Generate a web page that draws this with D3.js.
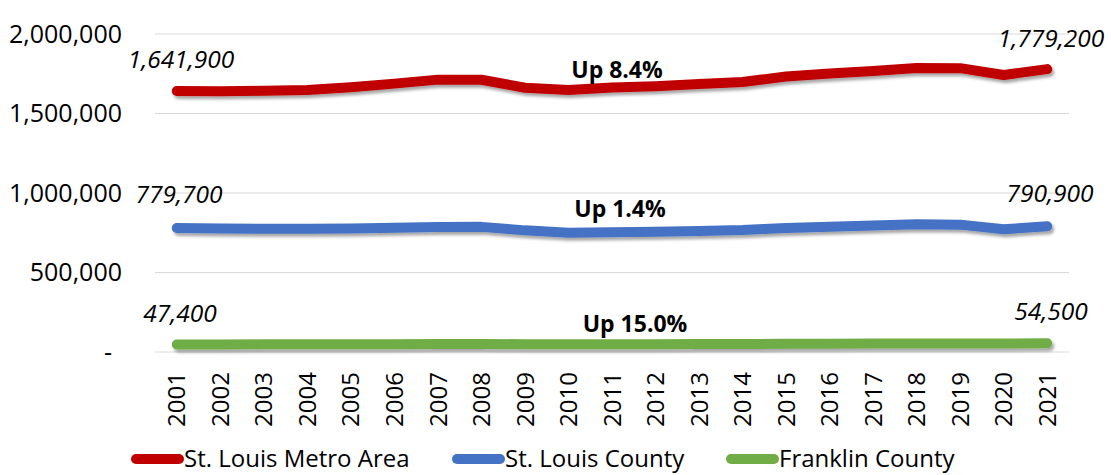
<!DOCTYPE html>
<html>
<head>
<meta charset="utf-8">
<title>St. Louis population</title>
<script src="https://cdn.jsdelivr.net/npm/d3@7"></script>
<style>
	body { margin: 0; background: #fff; }
	text { font-family: "Open Sans", sans-serif; fill: #000; }
</style>
</head>
<body>
<div id="chart"></div>
<script>
// data
var years = ["2001","2002","2003","2004","2005","2006","2007","2008","2009","2010","2011",
	"2012","2013","2014","2015","2016","2017","2018","2019","2020","2021"];
var metro = [1641900,1640000,1643000,1648000,1665000,1688000,1713000,1712000,1662000,1648000,1664000,
	1672000,1685000,1698000,1733000,1752000,1768000,1786000,1785000,1742000,1779200];
var county = [779700,777000,775000,775000,777000,781000,786000,787000,765000,750000,753000,
	756000,761000,767000,780000,787000,795000,803000,801000,772000,790900];
var franklin = [47400,47800,48000,48500,49000,49500,50000,50200,49000,48500,48800,
	49200,49800,50500,51300,52000,52800,53500,54000,52800,54500];
var seriesNames = ["St. Louis Metro Area","St. Louis County","Franklin County"];
var seriesColors = ["#c00000","#4472c4","#70ad47"];
var yTicks = [0,500000,1000000,1500000,2000000];
var changeLabels = ["Up 8.4%","Up 1.4%","Up 15.0%"];

var w = 1111, h = 475;
var plotLeft = 155, plotRight = 1069, plotTop = 34, plotBottom = 352;

var svg = d3.select("#chart").append("svg")
	.attr("width", w)
	.attr("height", h);

// soft shadow under the lines, region in user space so flat lines are not clipped
var defs = svg.append("defs");
var f = defs.append("filter").attr("id","shadow")
	.attr("filterUnits","userSpaceOnUse")
	.attr("x",0).attr("y",0).attr("width",w).attr("height",h);
f.append("feDropShadow")
	.attr("dx", 2).attr("dy", 3).attr("stdDeviation", 1.8)
	.attr("flood-color", "#000").attr("flood-opacity", 0.35);

var x = d3.scaleBand().domain(years).range([plotLeft, plotRight]);
var y = d3.scaleLinear().domain([0, 2000000]).range([plotBottom, plotTop]);
var cx = function(d){ return x(d) + x.bandwidth()/2; };

// gridlines
svg.append("g").selectAll("line")
	.data(yTicks)
	.enter().append("line")
	.attr("x1", plotLeft).attr("x2", plotRight)
	.attr("y1", function(d){ return y(d); })
	.attr("y2", function(d){ return y(d); })
	.attr("stroke", "#d9d9d9")
	.attr("stroke-width", 1.2);

// y tick labels (accounting style, zero is a dash)
var fmt = d3.format(",");
svg.append("g").selectAll("text")
	.data(yTicks)
	.enter().append("text")
	.attr("x", function(d){ return d === 0 ? 108 : 122; })
	.attr("y", function(d){ return y(d); })
	.attr("dy", "0.35em")
	.attr("text-anchor", function(d){ return d === 0 ? "middle" : "end"; })
	.attr("font-size", 25)
	.text(function(d){ return d === 0 ? "-" : fmt(d); });

// x labels, rotated
svg.append("g").selectAll("text")
	.data(years)
	.enter().append("text")
	.attr("transform", function(d){ return "translate(" + cx(d) + ",372) rotate(-90)"; })
	.attr("dy", "0.36em")
	.attr("text-anchor", "end")
	.attr("font-size", 24)
	.text(function(d){ return d; });

// lines
var allSeries = [metro, county, franklin];
var line = d3.line()
	.x(function(d, i){ return cx(years[i]); })
	.y(function(d){ return y(d); });

svg.append("g").selectAll("path")
	.data(allSeries)
	.enter().append("path")
	.attr("d", line)
	.attr("fill", "none")
	.attr("stroke", function(d, i){ return seriesColors[i]; })
	.attr("stroke-width", 10)
	.attr("stroke-linecap", "round")
	.attr("stroke-linejoin", "round")
	.attr("filter", "url(#shadow)");

// start / end value labels
var startLab = [[181, 68], [179, 203], [180, 322]];
var endLab = [[1051, 47], [1050, 202], [1051, 320]];
allSeries.forEach(function(s, i){
	svg.append("text")
		.attr("x", startLab[i][0]).attr("y", startLab[i][1])
		.attr("text-anchor", "middle")
		.attr("font-size", 24.5)
		.attr("font-style", "italic")
		.text(fmt(s[0]));
	svg.append("text")
		.attr("x", endLab[i][0]).attr("y", endLab[i][1])
		.attr("text-anchor", "middle")
		.attr("font-size", 24.5)
		.attr("font-style", "italic")
		.text(fmt(s[s.length-1]));
});

// change labels
var changePos = [[617, 78], [620, 217], [635, 332]];
svg.append("g").selectAll("text")
	.data(changeLabels)
	.enter().append("text")
	.attr("x", function(d, i){ return changePos[i][0]; })
	.attr("y", function(d, i){ return changePos[i][1]; })
	.attr("text-anchor", "middle")
	.attr("font-size", 23)
	.attr("font-weight", "bold")
	.text(function(d){ return d; });

// legend
var legX = [132, 453, 727];
var leg = svg.append("g").selectAll("g")
	.data(seriesNames)
	.enter().append("g")
	.attr("transform", function(d, i){ return "translate(" + legX[i] + ",459)"; });
leg.append("line")
	.attr("x1", 4).attr("x2", 47)
	.attr("stroke", function(d, i){ return seriesColors[i]; })
	.attr("stroke-width", 10)
	.attr("stroke-linecap", "round");
leg.append("text")
	.attr("x", 52)
	.attr("y", 0)
	.attr("dy", "0.35em")
	.attr("font-size", 24)
	.text(function(d){ return d; });
</script>
</body>
</html>
